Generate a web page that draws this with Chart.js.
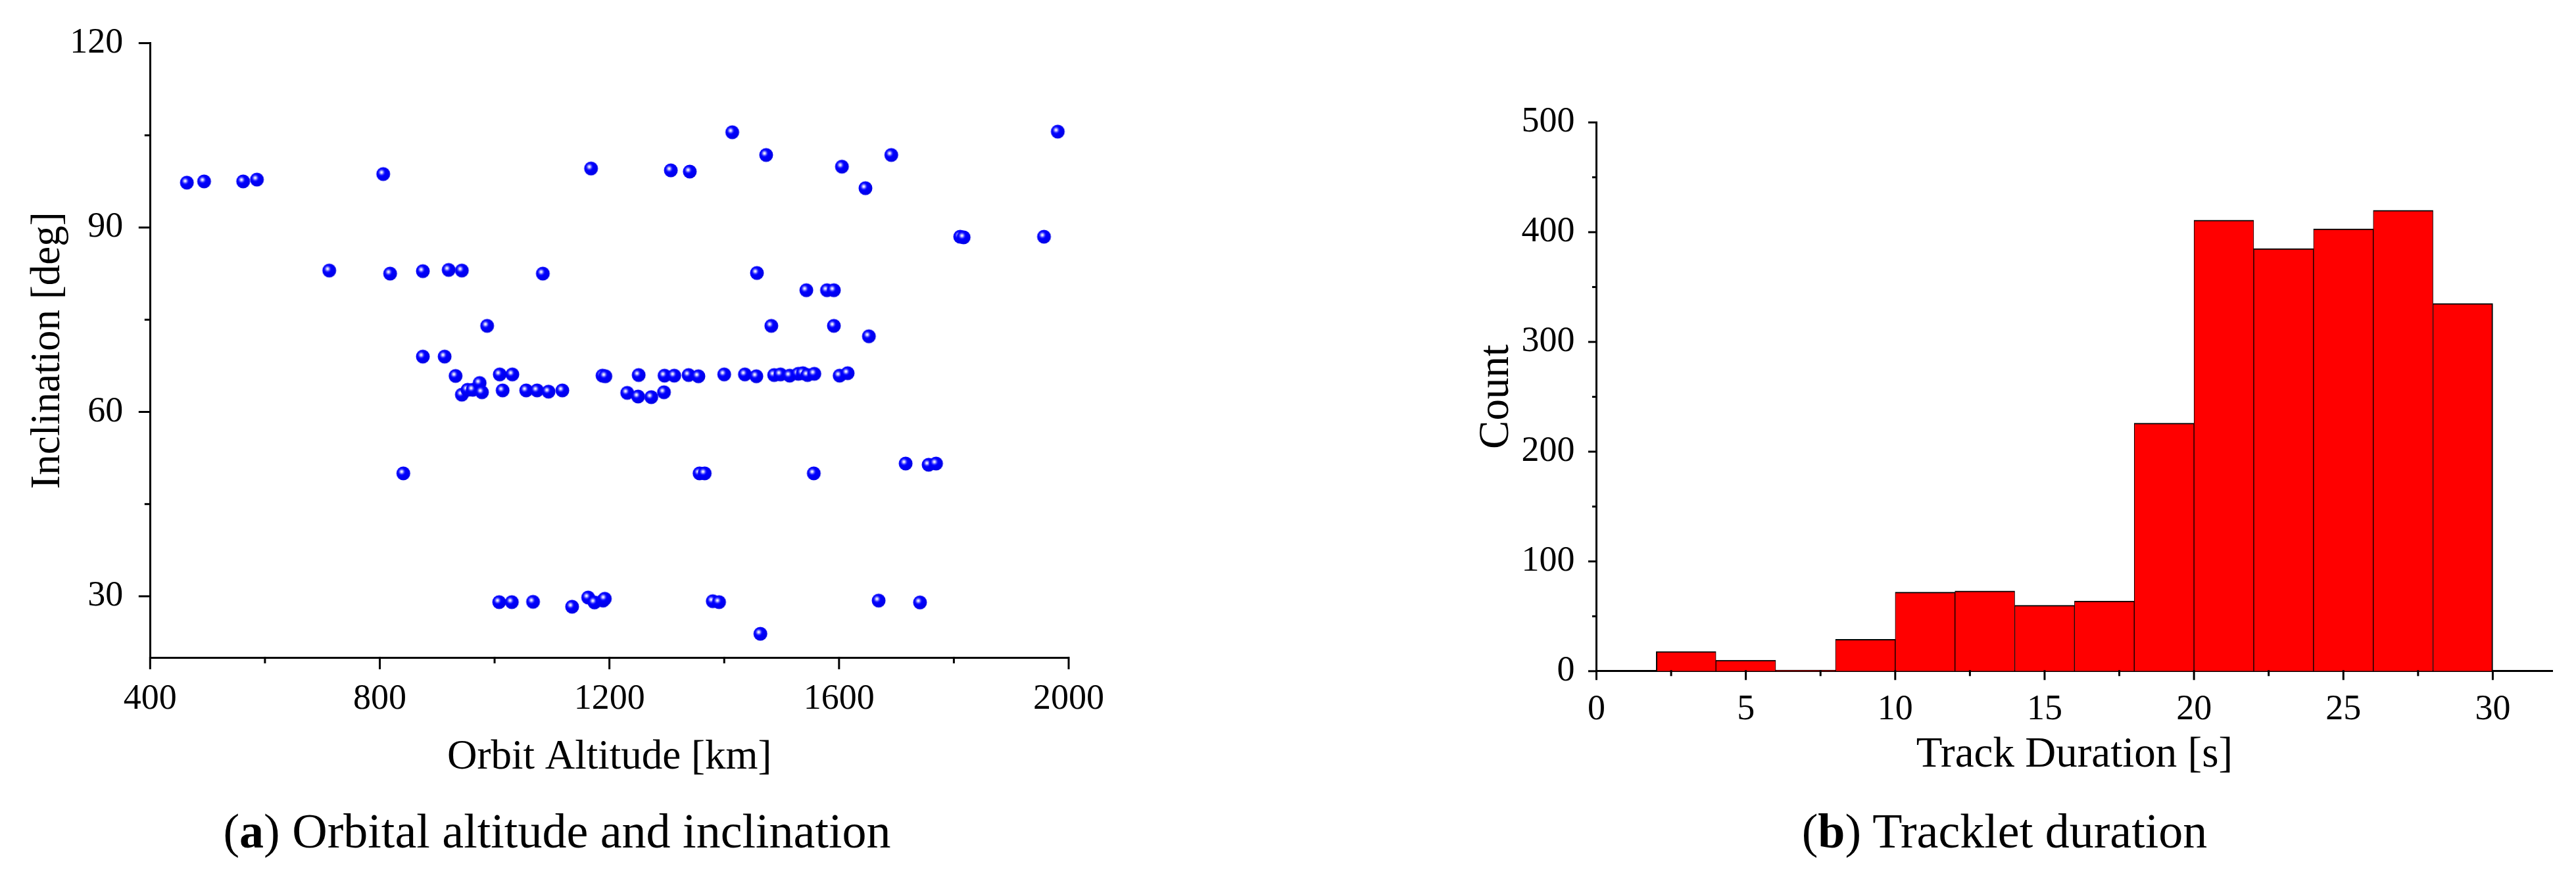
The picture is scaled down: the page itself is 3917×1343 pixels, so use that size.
<!DOCTYPE html>
<html><head><meta charset="utf-8">
<script src="https://cdn.jsdelivr.net/npm/chart.js@4.4.1/dist/chart.umd.min.js"></script>
<style>
html,body{margin:0;padding:0;background:#fff;}
body{width:3917px;height:1343px;position:relative;overflow:hidden;font-family:'Liberation Serif','Times New Roman',serif;}
#ca{position:absolute;left:0;top:0;width:1800px;height:1343px;}
#cb{position:absolute;left:2000px;top:0;width:1917px;height:1343px;}
.cap{position:absolute;top:1227px;width:1400px;text-align:center;font-size:74px;line-height:74px;color:#000;white-space:nowrap;}
</style></head><body>
<canvas id="ca" width="1800" height="1343"></canvas>
<canvas id="cb" width="1917" height="1343"></canvas>
<div class="cap" style="left:147px">(<b>a</b>) Orbital altitude and inclination</div>
<div class="cap" style="left:2348px">(<b>b</b>) Tracklet duration</div>
<script>
// ---------- data: (a) orbital altitude vs inclination ----------
const altitudeKm = [
  464, 494, 562, 586, 806, 1168, 1307, 1340, 1414, 1473, 1605, 1691, 1646, 1981, 1811, 1817, 1957,
  712, 818, 875, 920, 943, 1084, 1457,
  1543, 1579, 1591,
  987, 1482, 1591, 1652,
  875, 913,
  932, 1009, 1031, 1188, 1193, 1251, 1296, 1313, 1338, 1355, 1400, 1436, 1456, 1487, 1498, 1514, 1529, 1537, 1545, 1557, 1601, 1615,
  943, 953, 962, 974, 978, 1014, 1055, 1074, 1094, 1118, 1231, 1250, 1273, 1295,
  841, 1357, 1366, 1556, 1716, 1756, 1769,
  1008, 1030, 1067, 1135, 1163, 1174, 1189, 1192, 1380, 1391, 1463, 1669, 1741
];
const inclinationDeg = [
  97.3, 97.5, 97.5, 97.8, 98.7, 99.6, 99.3, 99.1, 105.5, 101.8, 99.9, 101.8, 96.4, 105.6, 88.5, 88.4, 88.5,
  83.0, 82.5, 82.9, 83.1, 83.0, 82.5, 82.6,
  79.8, 79.8, 79.8,
  74.0, 74.0, 74.0, 72.3,
  69.0, 69.0,
  65.85, 66.1, 66.1, 65.9, 65.8, 66.0, 65.9, 65.9, 66.0, 65.8, 66.1, 66.1, 65.8, 66.0, 66.1, 65.9, 66.2, 66.3, 66.0, 66.2, 65.9, 66.3,
  62.8, 63.6, 63.6, 64.7, 63.2, 63.5, 63.5, 63.5, 63.3, 63.5, 63.1, 62.5, 62.4, 63.2,
  50.0, 50.0, 50.0, 50.0, 51.6, 51.4, 51.6,
  29.05, 29.05, 29.1, 28.3, 29.8, 29.0, 29.3, 29.6, 29.2, 29.05, 23.9, 29.3, 29.0
];
const altTicks = [400, 800, 1200, 1600, 2000];
const altMinorTicks = [600, 1000, 1400, 1800];
const incTicks = [30, 60, 90, 120];
const incMinorTicks = [45, 75, 105];

// ---------- data: (b) tracklet duration histogram ----------
const durationBinStart = [2, 4, 6, 8, 10, 12, 14, 16, 18, 20, 22, 24, 26, 28];
const durationBinWidth = 2;
const durationCounts = [18, 10, 1, 29, 72, 73, 60, 64, 226, 411, 385, 403, 420, 335];
const durTicks = [0, 5, 10, 15, 20, 25, 30];
const durMinorTicks = [2.5, 7.5, 12.5, 17.5, 22.5, 27.5];
const countTicks = [0, 100, 200, 300, 400, 500];
const countMinorTicks = [50, 150, 250, 350, 450];

// ---------- helpers ----------
const FONT = "'Liberation Serif', 'Times New Roman', serif";

function makeSphere() {
  const c = document.createElement('canvas');
  c.width = 24; c.height = 24;
  const g = c.getContext('2d');
  const cx = 12, cy = 12, r = 10.5;
  const grad = g.createRadialGradient(cx - 2.6, cy - 2.6, 0, cx - 2.6, cy - 2.6, 13);
  grad.addColorStop(0, '#ffffff');
  grad.addColorStop(0.08, '#e8e8ff');
  grad.addColorStop(0.2, '#8a8aff');
  grad.addColorStop(0.32, '#2a2aff');
  grad.addColorStop(0.45, '#0000ff');
  grad.addColorStop(1, '#0000e6');
  g.fillStyle = grad;
  g.beginPath(); g.arc(cx, cy, r, 0, Math.PI * 2); g.fill();
  return c;
}

const axisTicks = {
  id: 'axisTicks',
  afterDraw(chart, args, o) {
    const {ctx, chartArea} = chart;
    const xs = chart.scales.x, ys = chart.scales.y;
    ctx.save();
    ctx.strokeStyle = '#000';
    ctx.lineWidth = 3;
    ctx.lineCap = 'butt';
    const b = chartArea.bottom - 1.5, l = chartArea.left + 1.5;
    const dx = (vals, len) => vals.forEach(v => {
      const p = xs.getPixelForValue(v);
      ctx.beginPath(); ctx.moveTo(p, b); ctx.lineTo(p, b + len); ctx.stroke();
    });
    const dy = (vals, len) => vals.forEach(v => {
      const p = ys.getPixelForValue(v);
      ctx.beginPath(); ctx.moveTo(l, p); ctx.lineTo(l - len, p); ctx.stroke();
    });
    dx(o.xMajor, o.xMajorLen); dx(o.xMinor, o.xMinorLen);
    dy(o.yMajor, o.yMajorLen); dy(o.yMinor, o.yMinorLen);
    ctx.restore();
  }
};

function fixTicks(list) {
  return function (scale) { scale.ticks = list.map(v => ({value: v})); };
}

// ---------- chart (a) ----------
new Chart(document.getElementById('ca'), {
  type: 'scatter',
  data: {
    datasets: [{
      data: altitudeKm.map((a, i) => ({x: a, y: inclinationDeg[i]})),
      pointStyle: makeSphere(),
      pointRadius: 10.5,
      showLine: false
    }]
  },
  options: {
    responsive: false,
    animation: false,
    events: [],
    layout: {padding: {top: 65.6, left: 0, right: 175, bottom: 0}},
    plugins: {
      legend: {display: false},
      tooltip: {enabled: false},
      axisTicks: {xMajor: altTicks, xMinor: altMinorTicks, yMajor: incTicks, yMinor: incMinorTicks,
                  xMajorLen: 19, xMinorLen: 10, yMajorLen: 19, yMinorLen: 10}
    },
    scales: {
      x: {
        type: 'linear', min: 400, max: 2000, z: 1,
        afterBuildTicks: fixTicks(altTicks),
        afterFit: s => { s.height = 1343 - 1000.4; },
        grid: {display: false},
        border: {display: true, color: '#000', width: 3},
        ticks: {color: '#000', padding: 23, maxRotation: 0, autoSkip: false,
                font: {family: FONT, size: 54}, callback: v => String(v)},
        title: {display: true, text: 'Orbit Altitude [km]', color: '#000',
                font: {family: FONT, size: 63}, padding: {top: 0, bottom: 153}}
      },
      y: {
        type: 'linear', min: 20, max: 120, z: 1,
        afterBuildTicks: fixTicks(incTicks),
        afterFit: s => { s.width = 228.3; },
        grid: {display: false},
        border: {display: true, color: '#000', width: 3},
        ticks: {color: '#000', padding: 33, autoSkip: false,
                font: {family: FONT, size: 54}, callback: v => String(v)},
        title: {display: true, text: 'Inclination [deg]', color: '#000',
                font: {family: FONT, size: 63}, padding: {top: 35.3, bottom: 0}}
      }
    }
  },
  plugins: [axisTicks]
});

// ---------- chart (b) ----------
const nBins = durationCounts.length;
new Chart(document.getElementById('cb'), {
  type: 'bar',
  data: {
    datasets: [{
      data: durationBinStart.map((s, i) => ({x: s + durationBinWidth / 2, y: durationCounts[i]})),
      backgroundColor: '#ff0000',
      borderColor: '#000000',
      borderWidth: c => ({top: 2, bottom: 0, left: c.dataIndex === 0 ? 2 : 1, right: c.dataIndex === nBins - 1 ? 2 : 1}),
      borderSkipped: 'start',
      barPercentage: 1,
      categoryPercentage: 1
    }]
  },
  options: {
    responsive: false,
    animation: false,
    events: [],
    layout: {padding: {top: 186.2, left: 0, right: 35.7, bottom: 0}},
    plugins: {
      legend: {display: false},
      tooltip: {enabled: false},
      axisTicks: {xMajor: durTicks, xMinor: durMinorTicks, yMajor: countTicks, yMinor: countMinorTicks,
                  xMajorLen: 15, xMinorLen: 9, yMajorLen: 14, yMinorLen: 8}
    },
    scales: {
      x: {
        type: 'linear', min: 0, max: 32, offset: false, z: 1,
        afterBuildTicks: fixTicks(durTicks),
        afterFit: s => { s.height = 1343 - 1020.8; },
        grid: {display: false, offset: false},
        border: {display: true, color: '#000', width: 3},
        ticks: {color: '#000', padding: 19, maxRotation: 0, autoSkip: false,
                font: {family: FONT, size: 54}, callback: v => String(v)},
        title: {display: true, text: 'Track Duration [s]', color: '#000',
                font: {family: FONT, size: 65}, padding: {top: 0, bottom: 155}}
      },
      y: {
        type: 'linear', min: 0, max: 500, z: 1,
        afterBuildTicks: fixTicks(countTicks),
        afterFit: s => { s.width = 427.5; },
        grid: {display: false},
        border: {display: true, color: '#000', width: 3},
        ticks: {color: '#000', padding: 25, autoSkip: false,
                font: {family: FONT, size: 54}, callback: v => String(v)},
        title: {display: true, text: 'Count', color: '#000',
                font: {family: FONT, size: 65}, padding: {top: 236.7, bottom: 0}}
      }
    }
  },
  plugins: [axisTicks]
});
</script>
</body></html>
